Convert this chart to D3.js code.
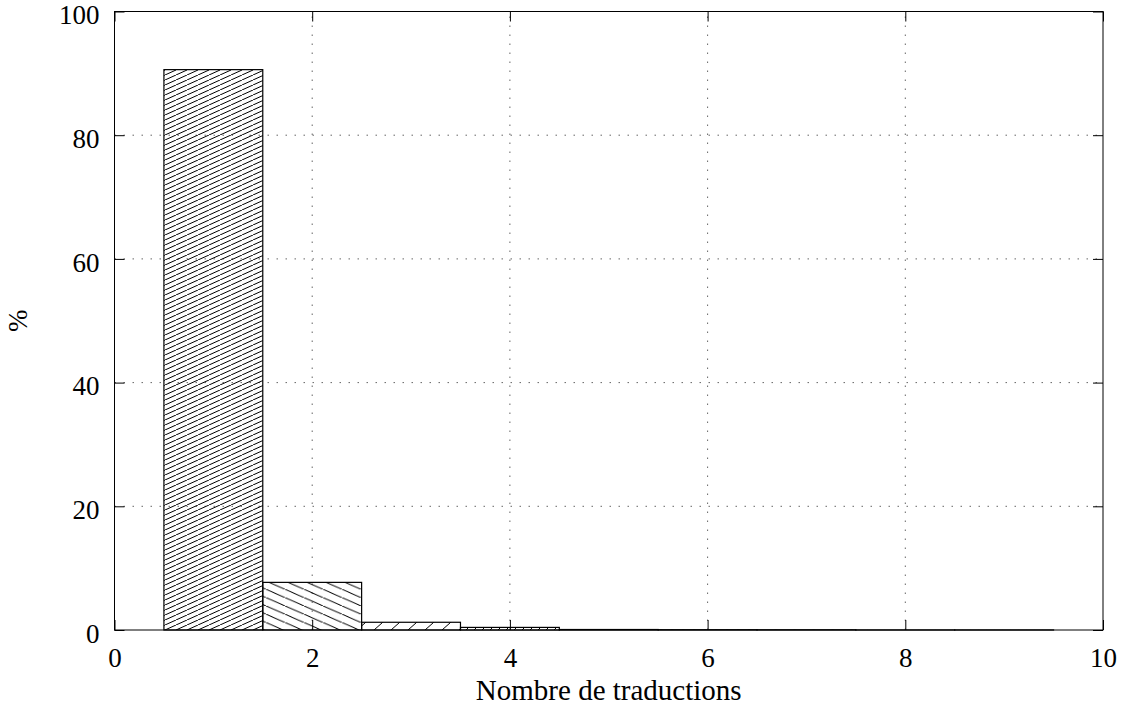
<!DOCTYPE html>
<html>
<head>
<meta charset="utf-8">
<script src="https://cdn.jsdelivr.net/npm/d3@7"></script>
<style>
  html, body { margin: 0; padding: 0; background: #fff; }
  svg { display: block; }
  text { font-family: "Liberation Serif", "Times New Roman", serif; fill: #000; }
</style>
</head>
<body>
<svg id="chart" width="1125" height="708"></svg>
<script>
// ---- data ----
const categories = [1, 2, 3, 4, 5, 6, 7, 8, 9];
const percentages = [90.6, 7.7, 1.25, 0.42, 0.08, 0.05, 0.04, 0.01, 0.01];
const xTicks = [0, 2, 4, 6, 8, 10];
const yTicks = [0, 20, 40, 60, 80, 100];
const xLabel = "Nombre de traductions";
const yLabel = "%";

// ---- layout ----
const svg = d3.select("#chart");
const W = 1125, H = 708;
const m = { left: 114.5, right: 22, top: 11.5, bottom: 78 };
const x0 = m.left, x1 = W - m.right, y0 = H - m.bottom, y1 = m.top;

const x = d3.scaleLinear().domain([0, 10]).range([x0, x1]);
const y = d3.scaleLinear().domain([0, 100]).range([y0, y1]);

// ---- hatch patterns ----
const defs = svg.append("defs");
function hatch(id, w, h, dir) {
  const p = defs.append("pattern").attr("id", id)
    .attr("patternUnits", "userSpaceOnUse")
    .attr("width", w).attr("height", h);
  const d = dir === "/"
    ? `M${-w},${2 * h} L${2 * w},${-h}`
    : `M${-w},${-h} L${2 * w},${2 * h}`;
  p.append("path").attr("d", d).attr("stroke", "#000").attr("stroke-width", 1).attr("fill", "none");
}
hatch("p1", 11, 5, "/");
hatch("p2", 19, 8.3, "\\");
hatch("p3", 17, 15, "/");
hatch("p4", 8, 8, "/");
hatch("p5", 10, 10, "\\");
const patternIds = ["p1", "p2", "p3", "p4", "p5", "p1", "p2", "p3", "p4"];

// ---- grid ----
const grid = svg.append("g");
xTicks.filter(t => t > 0 && t < 10).forEach(t => {
  grid.append("line").attr("x1", x(t)).attr("x2", x(t)).attr("y1", y0).attr("y2", y1)
    .attr("stroke", "#666").attr("stroke-width", 1).attr("stroke-dasharray", "1.5,7.5");
});
yTicks.filter(t => t > 0 && t < 100).forEach(t => {
  grid.append("line").attr("x1", x0).attr("x2", x1).attr("y1", y(t)).attr("y2", y(t))
    .attr("stroke", "#666").attr("stroke-width", 1).attr("stroke-dasharray", "1.5,7.5");
});

// ---- bars ----
svg.append("g").selectAll("rect").data(categories).join("rect")
  .attr("x", d => x(d - 0.5))
  .attr("width", d => x(d + 0.5) - x(d - 0.5))
  .attr("y", (d, i) => y(percentages[i]))
  .attr("height", (d, i) => y0 - y(percentages[i]))
  .attr("fill", (d, i) => `url(#${patternIds[i]})`)
  .attr("stroke", "#000").attr("stroke-width", 1.2);

// ---- axes (ticks inward, mirrored) ----
const tickLen = 10;
const fs = 27;
const axB = svg.append("g").attr("transform", `translate(0,${y0})`)
  .call(d3.axisBottom(x).tickValues(xTicks).tickFormat(d3.format("d")).tickSize(-tickLen).tickPadding(tickLen + 8));
const axT = svg.append("g").attr("transform", `translate(0,${y1})`)
  .call(d3.axisTop(x).tickValues(xTicks).tickFormat("").tickSize(-tickLen));
const axL = svg.append("g").attr("transform", `translate(${x0},0)`)
  .call(d3.axisLeft(y).tickValues(yTicks).tickFormat(d3.format("d")).tickSize(-tickLen).tickPadding(tickLen + 5));
const axR = svg.append("g").attr("transform", `translate(${x1},0)`)
  .call(d3.axisRight(y).tickValues(yTicks).tickFormat("").tickSize(-tickLen));
[axB, axT, axL, axR].forEach(a => {
  a.attr("font-family", null);
  a.select(".domain").remove();
  a.selectAll(".tick line").attr("stroke", "#000").attr("stroke-width", 1);
  a.selectAll("text").style("font-family", '"Liberation Serif", serif').style("font-size", fs + "px").attr("fill", "#000");
});
axB.selectAll("text").attr("dy", "0.71em");
axL.selectAll("text").attr("dy", "0.45em");

// frame
svg.append("rect").attr("x", x0).attr("y", y1).attr("width", x1 - x0).attr("height", y0 - y1)
  .attr("fill", "none").attr("stroke", "#000").attr("stroke-width", 1);

// ---- labels ----
svg.append("text").attr("x", (x0 + x1) / 2).attr("y", 700)
  .attr("text-anchor", "middle").style("font-size", "29px").text(xLabel);
svg.append("text").attr("transform", `translate(27,${(y0 + y1) / 2}) rotate(-90)`)
  .attr("text-anchor", "middle").style("font-size", "27px").text(yLabel);
</script>
</body>
</html>
